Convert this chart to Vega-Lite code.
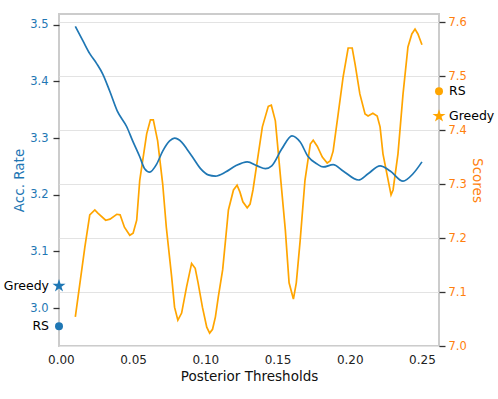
{
  "$schema": "https://vega.github.io/schema/vega-lite/v6.json",
  "width": 380,
  "height": 332,
  "autosize": {"type": "none"},
  "padding": {"left": 59, "top": 14, "right": 59, "bottom": 53},
  "config": {
    "font": "DejaVu Sans",
    "view": {"stroke": "#cccccc", "strokeWidth": 2},
    "axis": {"labelFont": "DejaVu Sans", "titleFont": "DejaVu Sans", "labelFontSize": 11.5, "titleFontSize": 13.5, "titleFontWeight": "normal", "domain": false, "tickColor": "#333333", "tickWidth": 1.3, "tickSize": 6, "labelPadding": 4, "gridColor": "#e3e3e3", "gridWidth": 1}
  },
  "datasets": {
    "blue": [
      {"t": 0.010, "acc": 3.497}, {"t": 0.0152, "acc": 3.472}, {"t": 0.020, "acc": 3.449}, {"t": 0.0249, "acc": 3.431},
      {"t": 0.029, "acc": 3.413}, {"t": 0.0338, "acc": 3.383}, {"t": 0.039, "acc": 3.348}, {"t": 0.0456, "acc": 3.320},
      {"t": 0.0497, "acc": 3.295}, {"t": 0.0546, "acc": 3.267}, {"t": 0.058, "acc": 3.246}, {"t": 0.0615, "acc": 3.240},
      {"t": 0.0663, "acc": 3.254}, {"t": 0.0705, "acc": 3.277}, {"t": 0.0753, "acc": 3.295}, {"t": 0.0787, "acc": 3.300},
      {"t": 0.0836, "acc": 3.293}, {"t": 0.0877, "acc": 3.279}, {"t": 0.091, "acc": 3.267}, {"t": 0.0967, "acc": 3.246},
      {"t": 0.102, "acc": 3.235}, {"t": 0.107, "acc": 3.233}, {"t": 0.114, "acc": 3.240}, {"t": 0.121, "acc": 3.251},
      {"t": 0.129, "acc": 3.258}, {"t": 0.136, "acc": 3.251}, {"t": 0.1416, "acc": 3.246}, {"t": 0.146, "acc": 3.251},
      {"t": 0.153, "acc": 3.281}, {"t": 0.160, "acc": 3.304}, {"t": 0.1657, "acc": 3.293}, {"t": 0.171, "acc": 3.268},
      {"t": 0.1775, "acc": 3.254}, {"t": 0.1816, "acc": 3.249}, {"t": 0.1885, "acc": 3.253}, {"t": 0.1954, "acc": 3.242},
      {"t": 0.206, "acc": 3.226}, {"t": 0.2127, "acc": 3.237}, {"t": 0.221, "acc": 3.251}, {"t": 0.228, "acc": 3.242},
      {"t": 0.2369, "acc": 3.224}, {"t": 0.2438, "acc": 3.237}, {"t": 0.250, "acc": 3.258}
    ],
    "orange": [
      {"t": 0.010, "score": 7.054}, {"t": 0.0166, "score": 7.183}, {"t": 0.020, "score": 7.243}, {"t": 0.0235, "score": 7.252},
      {"t": 0.0256, "score": 7.246}, {"t": 0.031, "score": 7.233}, {"t": 0.034, "score": 7.235}, {"t": 0.0387, "score": 7.244},
      {"t": 0.041, "score": 7.243}, {"t": 0.044, "score": 7.220}, {"t": 0.0477, "score": 7.205}, {"t": 0.050, "score": 7.209},
      {"t": 0.0525, "score": 7.233}, {"t": 0.0546, "score": 7.307}, {"t": 0.0594, "score": 7.393}, {"t": 0.062, "score": 7.419},
      {"t": 0.064, "score": 7.419}, {"t": 0.067, "score": 7.380}, {"t": 0.0705, "score": 7.300}, {"t": 0.073, "score": 7.220},
      {"t": 0.0767, "score": 7.128}, {"t": 0.0787, "score": 7.072}, {"t": 0.081, "score": 7.048}, {"t": 0.0836, "score": 7.061},
      {"t": 0.087, "score": 7.109}, {"t": 0.0905, "score": 7.153}, {"t": 0.093, "score": 7.144}, {"t": 0.095, "score": 7.117},
      {"t": 0.098, "score": 7.072}, {"t": 0.101, "score": 7.035}, {"t": 0.103, "score": 7.024}, {"t": 0.105, "score": 7.031},
      {"t": 0.107, "score": 7.054}, {"t": 0.109, "score": 7.091}, {"t": 0.112, "score": 7.141}, {"t": 0.114, "score": 7.196},
      {"t": 0.116, "score": 7.252}, {"t": 0.1195, "score": 7.289}, {"t": 0.122, "score": 7.298}, {"t": 0.124, "score": 7.285},
      {"t": 0.126, "score": 7.267}, {"t": 0.129, "score": 7.256}, {"t": 0.131, "score": 7.263}, {"t": 0.133, "score": 7.289},
      {"t": 0.136, "score": 7.343}, {"t": 0.1395, "score": 7.406}, {"t": 0.1436, "score": 7.444}, {"t": 0.1457, "score": 7.446},
      {"t": 0.1485, "score": 7.417}, {"t": 0.1506, "score": 7.356}, {"t": 0.1554, "score": 7.215}, {"t": 0.158, "score": 7.117},
      {"t": 0.161, "score": 7.087}, {"t": 0.163, "score": 7.117}, {"t": 0.1657, "score": 7.196}, {"t": 0.169, "score": 7.307},
      {"t": 0.1727, "score": 7.374}, {"t": 0.1747, "score": 7.381}, {"t": 0.1775, "score": 7.370}, {"t": 0.181, "score": 7.350},
      {"t": 0.1844, "score": 7.339}, {"t": 0.1865, "score": 7.343}, {"t": 0.1885, "score": 7.361}, {"t": 0.192, "score": 7.430},
      {"t": 0.1954, "score": 7.498}, {"t": 0.1989, "score": 7.552}, {"t": 0.2017, "score": 7.552}, {"t": 0.2037, "score": 7.522},
      {"t": 0.207, "score": 7.467}, {"t": 0.2106, "score": 7.430}, {"t": 0.2127, "score": 7.426}, {"t": 0.216, "score": 7.431},
      {"t": 0.219, "score": 7.426}, {"t": 0.221, "score": 7.406}, {"t": 0.223, "score": 7.356}, {"t": 0.2286, "score": 7.280},
      {"t": 0.230, "score": 7.289}, {"t": 0.2334, "score": 7.356}, {"t": 0.2369, "score": 7.467}, {"t": 0.2403, "score": 7.554},
      {"t": 0.243, "score": 7.578}, {"t": 0.2452, "score": 7.587}, {"t": 0.2472, "score": 7.578}, {"t": 0.250, "score": 7.558}
    ],
    "leftMarks": [
      {"t": -0.0013, "acc": 3.039, "label": "Greedy"},
      {"t": -0.0013, "acc": 2.968, "label": "RS"}
    ],
    "rightMarks": [
      {"t": 0.2618, "score": 7.426, "label": "Greedy"},
      {"t": 0.2618, "score": 7.472, "label": "RS"}
    ]
  },
  "layer": [
    {
      "data": {"name": "orange"},
      "mark": {"type": "line", "color": "#ffa500", "strokeWidth": 1.7},
      "encoding": {
        "x": {"field": "t", "type": "quantitative", "scale": {"domain": [-0.0013, 0.2618], "nice": false, "zero": false},
          "axis": {"title": "Posterior Thresholds", "values": [0, 0.05, 0.1, 0.15, 0.2, 0.25], "format": ".2f", "grid": false, "ticks": false, "labelFontSize": 12, "labelPadding": 8, "titlePadding": 4, "labelColor": "#222222", "titleColor": "#111111"}},
        "y": {"field": "score", "type": "quantitative", "scale": {"domain": [7.0, 7.615], "nice": false, "zero": false},
          "axis": {"orient": "right", "title": "Scores", "values": [7.0, 7.1, 7.2, 7.3, 7.4, 7.5, 7.6], "format": ".1f", "grid": true, "labelColor": "#ff7f0e", "titleColor": "#ff7f0e", "titlePadding": 3, "labelPadding": 3}}
      }
    },
    {
      "data": {"name": "blue"},
      "mark": {"type": "line", "color": "#1f77b4", "strokeWidth": 1.7, "interpolate": "monotone"},
      "encoding": {
        "x": {"field": "t", "type": "quantitative"},
        "y": {"field": "acc", "type": "quantitative", "scale": {"domain": [2.933, 3.519], "nice": false, "zero": false},
          "axis": {"orient": "left", "title": "Acc. Rate", "values": [3.0, 3.1, 3.2, 3.3, 3.4, 3.5], "format": ".1f", "grid": false, "labelColor": "#1f77b4", "titleColor": "#1f77b4", "titlePadding": 3, "labelPadding": 5}}
      }
    },
    {
      "data": {"name": "leftMarks"},
      "transform": [{"filter": "datum.label === 'Greedy'"}],
      "mark": {"type": "point", "shape": "M0,-1L0.225,-0.309L0.951,-0.309L0.363,0.118L0.588,0.809L0,0.382L-0.588,0.809L-0.363,0.118L-0.951,-0.309L-0.225,-0.309Z", "size": 190, "filled": true, "opacity": 1, "color": "#1f77b4"},
      "encoding": {
        "x": {"field": "t", "type": "quantitative"},
        "y": {"field": "acc", "type": "quantitative", "scale": {"domain": [2.933, 3.519], "nice": false, "zero": false}, "axis": null}
      }
    },
    {
      "data": {"name": "leftMarks"},
      "transform": [{"filter": "datum.label === 'RS'"}],
      "mark": {"type": "point", "shape": "circle", "size": 64, "filled": true, "opacity": 1, "color": "#1f77b4"},
      "encoding": {
        "x": {"field": "t", "type": "quantitative"},
        "y": {"field": "acc", "type": "quantitative", "scale": {"domain": [2.933, 3.519], "nice": false, "zero": false}, "axis": null}
      }
    },
    {
      "data": {"name": "leftMarks"},
      "mark": {"type": "text", "align": "right", "baseline": "middle", "dx": -10, "fontSize": 12.5, "color": "#000000"},
      "encoding": {
        "x": {"field": "t", "type": "quantitative"},
        "y": {"field": "acc", "type": "quantitative", "scale": {"domain": [2.933, 3.519], "nice": false, "zero": false}, "axis": null},
        "text": {"field": "label", "type": "nominal"}
      }
    },
    {
      "data": {"name": "rightMarks"},
      "transform": [{"filter": "datum.label === 'Greedy'"}],
      "mark": {"type": "point", "shape": "M0,-1L0.225,-0.309L0.951,-0.309L0.363,0.118L0.588,0.809L0,0.382L-0.588,0.809L-0.363,0.118L-0.951,-0.309L-0.225,-0.309Z", "size": 190, "filled": true, "opacity": 1, "color": "#ffa500"},
      "encoding": {
        "x": {"field": "t", "type": "quantitative"},
        "y": {"field": "score", "type": "quantitative", "scale": {"domain": [7.0, 7.615], "nice": false, "zero": false}, "axis": null}
      }
    },
    {
      "data": {"name": "rightMarks"},
      "transform": [{"filter": "datum.label === 'RS'"}],
      "mark": {"type": "point", "shape": "circle", "size": 64, "filled": true, "opacity": 1, "color": "#ffa500"},
      "encoding": {
        "x": {"field": "t", "type": "quantitative"},
        "y": {"field": "score", "type": "quantitative", "scale": {"domain": [7.0, 7.615], "nice": false, "zero": false}, "axis": null}
      }
    },
    {
      "data": {"name": "rightMarks"},
      "mark": {"type": "text", "align": "left", "baseline": "middle", "dx": 10, "fontSize": 12.5, "color": "#000000"},
      "encoding": {
        "x": {"field": "t", "type": "quantitative"},
        "y": {"field": "score", "type": "quantitative", "scale": {"domain": [7.0, 7.615], "nice": false, "zero": false}, "axis": null},
        "text": {"field": "label", "type": "nominal"}
      }
    }
  ],
  "resolve": {"scale": {"y": "independent"}}
}
